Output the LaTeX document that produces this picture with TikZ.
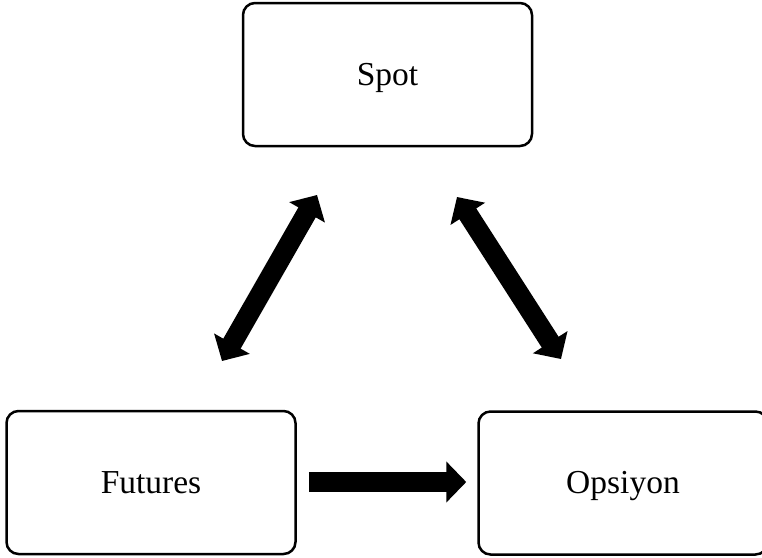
\documentclass[tikz,border=0pt]{standalone}
\usepackage{fontspec}
\setmainfont{Liberation Serif}
\usetikzlibrary{arrows.meta}
\begin{document}
\begin{tikzpicture}[x=1pt,y=-1pt,
  market/.style={draw=black, line width=2.5pt, rounded corners=12pt, fill=white,
    minimum width=289pt, minimum height=143pt, inner sep=0pt,
    text height=21pt, text depth=0pt,
    font=\fontsize{33.5}{40}\selectfont},
  bigarrow/.style={line width=20pt, draw=black},
  twoway/.style={bigarrow, {Triangle[length=20pt,width=40pt]}-{Triangle[length=20pt,width=40pt]}},
  oneway/.style={bigarrow, -{Triangle[length=20pt,width=40pt]}}]
  \useasboundingbox (0,0) rectangle (762,557);
  \begin{scope}
  \clip (0,0) rectangle (762,557);
  % the three markets
  \node[market] (spot) at (387.5,74.5) {Spot};
  \node[market] (fut)  at (151,482.5) {Futures};
  \node[market] (ops)  at (623,483) {Opsiyon};
  \end{scope}
  % end points of the two-way links
  \coordinate (fl) at (222,361);
  \coordinate (sl) at (317,195);
  \coordinate (sr) at (457,197);
  \coordinate (or) at (561,359);
  \draw[twoway] (fl) -- (sl);
  \draw[twoway] (sr) -- (or);
  % futures feed the options market
  \draw[oneway, shorten <=12pt, shorten >=11pt] (fut.east |- 0,482) -- (ops.west |- 0,482);
\end{tikzpicture}
\end{document}
